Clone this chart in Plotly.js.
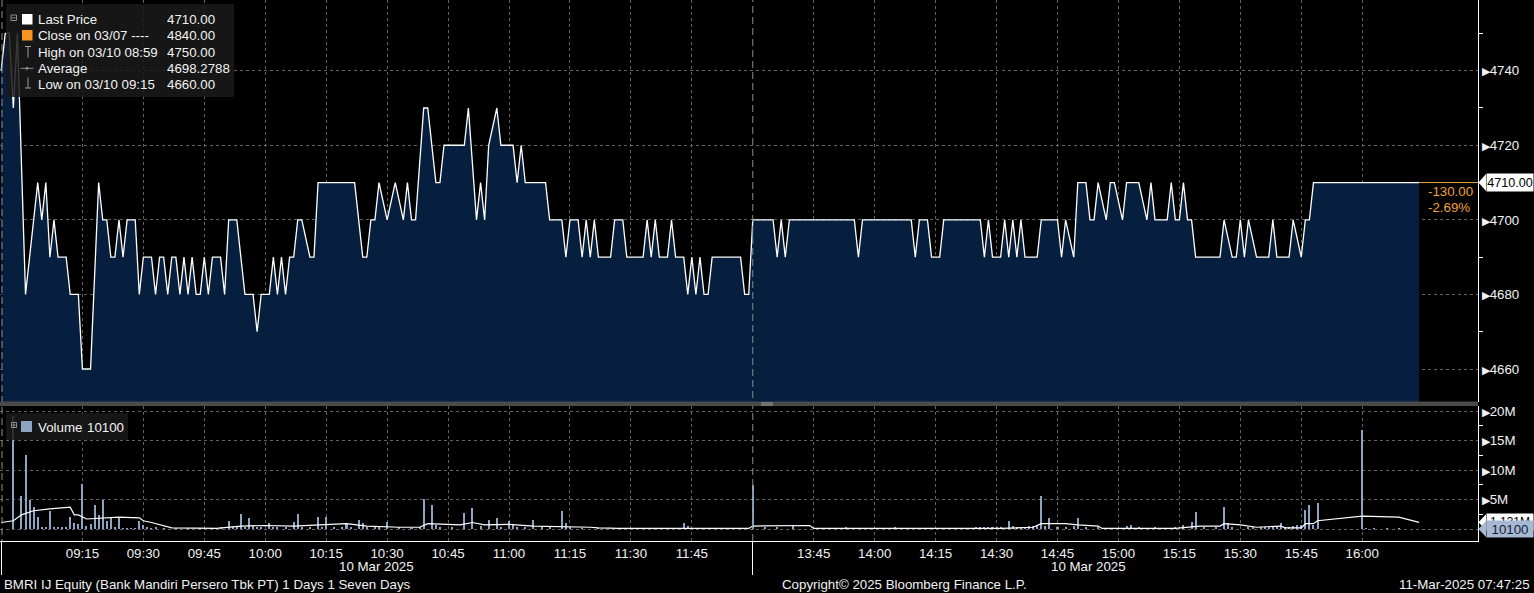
<!DOCTYPE html>
<html><head><meta charset="utf-8">
<script src="https://cdn.plot.ly/plotly-3.0.1.min.js"></script>
<style>html,body{margin:0;padding:0;background:#000;overflow:hidden}#chart{width:1534px;height:593px}</style>
</head><body><div id="chart"></div>
<script>
const DAY = '2025-03-10 ';
// ---- Price (Last Price, 1-minute, vertices) ----
const priceTimes = ['08:55','08:56','08:57','08:58','08:59','09:01','09:04','09:05','09:06','09:07','09:08','09:09','09:11','09:12','09:14','09:15','09:17','09:19','09:20','09:21','09:22','09:23','09:24','09:25','09:26','09:28','09:29','09:30','09:32','09:33','09:34','09:35','09:36','09:37','09:38','09:39','09:40','09:41','09:42','09:43','09:44','09:45','09:46','09:47','09:49','09:50','09:51','09:53','09:55','09:57','09:58','09:59','10:01','10:02','10:03','10:04','10:05','10:06','10:07','10:08','10:09','10:11','10:12','10:13','10:22','10:24','10:25','10:26','10:27','10:28','10:30','10:32','10:34','10:35','10:36','10:37','10:39','10:40','10:42','10:43','10:44','10:49','10:50','10:52','10:53','10:54','10:55','10:57','10:58','11:01','11:02','11:03','11:04','11:09','11:10','11:13','11:14','11:15','11:17','11:18','11:19','11:20','11:21','11:22','11:25','11:26','11:28','11:29','11:33','11:34','11:35','11:36','11:37','11:39','11:40','11:41','11:43','11:44','11:45','11:46','11:47','11:48','11:49','11:50','11:57','11:58','11:59',
'13:30','13:35','13:36','13:37','13:38','13:39','13:55','13:56','13:57','14:09','14:10','14:11','14:13','14:14','14:16','14:17','14:26','14:27','14:28','14:29','14:31','14:32','14:33','14:34','14:35','14:36','14:37','14:40','14:41','14:45','14:46','14:47','14:49','14:50','14:52','14:53','14:54','14:55','14:57','14:58','14:59','15:01','15:02','15:05','15:07','15:08','15:09','15:12','15:13','15:14','15:15','15:16','15:17','15:18','15:19','15:25','15:26','15:28','15:29','15:30','15:31','15:32','15:34','15:37','15:38','15:39','15:42','15:43','15:45','15:46','15:47','15:48','16:14'];
const priceValues = [4740,4750,4750,4730,4750,4680,4710,4700,4710,4690,4700,4690,4690,4680,4680,4660,4660,4710,4700,4700,4690,4690,4700,4690,4700,4700,4680,4690,4690,4680,4690,4690,4680,4690,4690,4680,4690,4680,4690,4680,4680,4690,4680,4690,4690,4680,4700,4700,4680,4680,4670,4680,4680,4690,4680,4690,4680,4690,4690,4700,4700,4690,4690,4710,4710,4690,4690,4700,4700,4710,4700,4710,4700,4710,4700,4700,4730,4730,4710,4710,4720,4720,4730,4700,4710,4700,4720,4730,4720,4720,4710,4720,4710,4710,4700,4700,4690,4700,4700,4690,4700,4690,4700,4690,4690,4700,4700,4690,4690,4700,4690,4700,4690,4690,4700,4690,4690,4680,4690,4680,4690,4680,4680,4690,4690,4680,4680,
4700,4700,4690,4700,4690,4700,4700,4690,4700,4700,4690,4700,4700,4690,4690,4700,4700,4690,4700,4690,4690,4700,4690,4700,4690,4700,4690,4690,4700,4700,4690,4700,4690,4710,4710,4700,4700,4710,4700,4710,4710,4700,4710,4710,4700,4710,4700,4700,4710,4700,4700,4710,4700,4700,4690,4690,4700,4690,4690,4700,4690,4700,4690,4690,4700,4690,4690,4700,4690,4700,4700,4710,4710];
// ---- Volume (millions of shares) ----
const volTimes = ['08:58','09:00','09:01','09:02','09:03','09:04','09:05','09:06','09:07','09:08','09:09','09:10','09:11','09:12','09:13','09:14','09:15','09:16','09:17','09:18','09:19','09:20','09:21','09:22','09:23','09:24','09:25','09:26','09:27','09:28','09:29','09:30','09:31','09:32','09:33','09:35','09:38','09:41','09:44','09:47','09:49','09:51','09:52','09:53','09:54','09:55','09:56','09:57','09:58','09:59','10:01','10:02','10:03','10:05','10:07','10:08','10:09','10:11','10:13','10:14','10:15','10:17','10:19','10:20','10:21','10:23','10:24','10:25','10:27','10:28','10:30','10:33','10:36','10:38','10:39','10:41','10:42','10:43','10:46','10:49','10:51','10:53','10:55','10:57','10:58','11:00','11:01','11:02','11:04','11:06','11:08','11:10','11:13','11:14','11:15','11:18','11:22','11:27','11:33','11:38','11:43','11:44','11:51','11:56',
'13:30','13:33','13:36','13:40','13:53','14:05','14:12','14:19','14:22','14:25','14:26','14:27','14:28','14:29','14:30','14:31','14:33','14:34','14:35','14:36','14:37','14:38','14:39','14:40','14:41','14:42','14:43','14:45','14:47','14:49','14:50','14:52','14:55','15:02','15:03','15:05','15:09','15:14','15:16','15:18','15:19','15:21','15:24','15:26','15:27','15:28','15:32','15:33','15:35','15:36','15:37','15:38','15:39','15:40','15:41','15:42','15:43','15:44','15:45','15:46','15:47','15:48','15:49','16:00','16:01','16:03','16:06','16:09'];
const volValues = [19.1,5.6,12.6,4.9,3.8,2.1,0.4,0.3,3.0,0.3,0.3,0.3,0.4,2.1,1.0,0.9,7.6,0.5,0.9,4.0,2.4,4.9,1.4,2.0,0.3,1.9,0.2,0.2,0.2,0.2,1.4,0.7,0.3,0.2,0.3,0.2,0.2,0.2,0.2,0.2,0.3,1.3,0.3,0.4,2.6,0.4,1.8,0.5,0.4,0.4,1.0,0.3,0.4,0.3,1.2,2.6,0.4,0.3,2.0,0.4,2.1,0.3,0.3,0.9,0.4,1.5,1.0,0.4,0.3,0.3,1.2,0.3,0.2,0.4,5.1,4.0,0.6,0.3,0.4,2.7,3.6,0.5,1.5,1.8,0.4,1.4,0.8,0.4,0.4,1.6,0.3,0.3,3.1,1.1,0.3,0.2,0.2,0.2,0.2,0.2,1.1,0.5,0.2,0.2,
7.4,0.3,0.3,0.5,0.3,0.3,0.2,0.2,0.2,0.3,0.3,0.4,0.3,0.4,0.4,0.3,1.4,0.5,0.4,0.3,0.4,0.5,0.5,0.6,5.6,0.5,1.9,0.4,0.4,0.5,1.8,0.4,0.3,0.5,0.7,0.3,0.3,0.4,0.6,1.2,2.9,0.3,0.3,3.8,1.1,0.4,0.4,0.4,0.4,0.4,0.4,0.5,0.5,1.0,0.4,0.4,0.5,0.7,0.7,3.3,4.0,0.6,4.4,16.7,0.2,0.2,0.2,0.2];
// ---- Volume moving-average line (millions) ----
const volAvgTimes = ['08:55','08:58','09:00','09:03','09:07','09:12','09:13','09:14','09:16','09:19','09:24','09:29','09:30','09:32','09:35','09:37','09:48','09:52','09:54','10:00','10:07','10:20','10:25','10:33','10:38','10:40','10:48','10:51','10:54','11:00','11:06','11:20','11:22','11:27','11:59','13:30','13:42','13:44','13:45','14:31','14:39','14:41','14:47','14:50','14:55','14:56','15:14','15:20','15:25','15:26','15:30','15:34','15:40','15:41','15:45','15:46','15:48','15:49','16:00','16:04','16:09','16:14'];
const volAvgValues = [1.1,1.4,2.4,3.1,3.4,3.7,2.4,2.4,1.7,1.8,2.0,1.9,1.4,1.1,0.5,0.2,0.1,0.3,0.5,0.6,0.5,0.9,0.5,0.3,0.3,0.9,0.7,1.1,0.7,0.8,0.5,0.3,0.2,0.1,0.1,0.5,0.6,0.6,0.1,0.1,0.3,0.9,0.9,0.7,0.5,0.1,0.1,0.5,0.5,0.9,0.7,0.3,0.5,0.2,0.2,0.9,0.9,1.4,2.2,2.1,2.0,1.131];
// ---- Axes / labels ----
const xTickTimes = ['09:15','09:30','09:45','10:00','10:15','10:30','10:45','11:00','11:15','11:30','11:45','13:45','14:00','14:15','14:30','14:45','15:00','15:15','15:30','15:45','16:00'];
const priceTicks = [4660,4680,4700,4720,4740];
const priceMinorTicks = [4670,4690,4710,4730,4750];
const volTicks = [0,5,10,15,20];
const volTickLabels = ['','5M','10M','15M','20M'];
const volMinorTicks = [2.5,7.5,12.5,17.5];
const legendLabels = ['Last Price','Close on 03/07 ----','High on 03/10 08:59','Average','Low on 03/10 09:15'];
const legendValues = ['4710.00','4840.00','4750.00','4698.2788','4660.00'];
const prevClose = 4840;
const lastVolume = 10100;
const dateLabel = '10 Mar 2025';
const footerLeft = 'BMRI IJ Equity (Bank Mandiri Persero Tbk PT) 1 Days 1 Seven Days';
const footerMid = 'Copyright\u00A9 2025 Bloomberg Finance L.P.';
const footerRight = '11-Mar-2025 07:47:25';

// ---- helpers ----
const T = t => DAY + t;
const PW = 1478, PH = 541;
const px = x => x / PW;
const py = y => 1 - y / PH;
const FONT = 'Liberation Sans, Arial, sans-serif';
const FS = 13.3;
const WHITE = '#f2f2f2';
const ORANGE = '#f0a23a';
const VOLC = '#8ea4c3';
const TAGC = '#a7b8d2';
const GRID = '#626262';
const tri = '<span style="font-size:11px">\u25B6</span>';

const lastPrice = priceValues[priceValues.length - 1];
const lastTime = priceTimes[priceTimes.length - 1];
const chg = lastPrice - prevClose;
const chgPct = chg / prevClose * 100;
const lastAvg = volAvgValues[volAvgValues.length - 1];
const xStart = T('08:54:43'), xEnd = T('16:28:30');
const pRange = [4651.15, 4758.96];
const vRange = [-2.03, 20.85];
const pUnitPerPx = (pRange[1] - pRange[0]) / 402;
const vUnitPerPx = (vRange[1] - vRange[0]) / 135;

const traces = [
  {x: priceTimes.map(T), y: priceValues, type: 'scatter', mode: 'lines', fill: 'tozeroy',
   fillcolor: '#061f3f', line: {color: '#ffffff', width: 1.3}, xaxis: 'x', yaxis: 'y', hoverinfo: 'skip'},
  {x: [T(lastTime), xEnd], y: [lastPrice, lastPrice], type: 'scatter', mode: 'lines',
   line: {color: ORANGE, width: 1}, xaxis: 'x', yaxis: 'y', hoverinfo: 'skip'},
  {x: volTimes.map(T), y: volValues, type: 'bar', marker: {color: VOLC, line: {width: 0}}, width: 30000,
   xaxis: 'x', yaxis: 'y2', hoverinfo: 'skip'},
  {x: volAvgTimes.map(T), y: volAvgValues, type: 'scatter', mode: 'lines',
   line: {color: '#ffffff', width: 1.2}, xaxis: 'x', yaxis: 'y2', hoverinfo: 'skip'}
];

const shapes = [];
const annotations = [];
function ann(o) { annotations.push(Object.assign({showarrow: false, xref: 'paper', yref: 'paper', borderpad: 0,
  font: {family: FONT, size: FS, color: WHITE}}, o)); }
function rect(x0, y0, x1, y1, fill, line) {
  shapes.push({type: 'rect', xref: 'paper', yref: 'paper', x0: px(x0), x1: px(x1), y0: py(y0), y1: py(y1),
    fillcolor: fill, line: line || {width: 0}, layer: 'above'});
}
function seg(x0, y0, x1, y1, color, w, dash) {
  shapes.push({type: 'line', xref: 'paper', yref: 'paper', x0: px(x0), x1: px(x1), y0: py(y0), y1: py(y1),
    line: {color: color, width: w || 1, dash: dash || 'solid'}, layer: 'above'});
}
function notch(yref, yv, half, color) {
  shapes.push({type: 'path', xref: 'paper', yref: yref, layer: 'above', fillcolor: color, line: {width: 0},
    path: `M ${px(1478.5)} ${yv} L ${px(1486)} ${yv + half} L ${px(1486)} ${yv - half} Z`});
}

// session / day separators
shapes.push({type: 'line', xref: 'x', yref: 'paper', x0: T('13:30'), x1: T('13:30'), y0: 0, y1: 1,
  line: {color: '#8c8c8c', width: 1, dash: '7px,4px'}, layer: 'above'});
seg(2, 0, 2, 541, '#8c8c8c', 1, '7px,4px');
seg(752.5, 541, 752.5, 575, '#ffffff', 1);
seg(1.5, 541, 1.5, 575, '#ffffff', 1);
// panel separator
rect(0, 401.5, 1478, 406, '#4a4a4a');
seg(761, 403, 773, 403, '#9a9a9a', 1);
seg(761, 405, 773, 405, '#9a9a9a', 1);

// price legend box
rect(6, 4, 234, 97, 'rgba(26,26,26,0.86)');
rect(11, 15, 16.5, 20.5, 'rgba(0,0,0,0)', {color: '#8c8c8c', width: 1});
seg(12, 17.8, 15.5, 17.8, '#8c8c8c', 1);
rect(22, 14, 32.5, 24.5, '#ffffff');
rect(22, 30, 32.5, 40.5, '#f7941d');
seg(25, 46.5, 31, 46.5, '#9a9a9a', 1); seg(28, 46.5, 28, 57.5, '#9a9a9a', 1);
seg(20.5, 68.3, 33.5, 68.3, '#8a8a8a', 1);
shapes.push({type: 'circle', xref: 'paper', yref: 'paper', x0: px(25.5), x1: px(28.5), y0: py(69.8), y1: py(66.8), fillcolor: '#8a8a8a', line: {width: 0}, layer: 'above'});
seg(28, 77.5, 28, 88, '#9a9a9a', 1); seg(25, 88, 31, 88, '#9a9a9a', 1);
const rowY = [19.5, 35.5, 52, 68, 84.5];
legendLabels.forEach((l, i) => {
  ann({x: px(37), y: py(rowY[i]), xanchor: 'left', yanchor: 'middle', text: l});
  ann({x: px(166), y: py(rowY[i]), xanchor: 'left', yanchor: 'middle', text: legendValues[i]});
});

// volume legend box
rect(6, 413, 128, 440, 'rgba(26,26,26,0.86)');
rect(11.5, 422.5, 16.5, 427.5, 'rgba(0,0,0,0)', {color: '#8c8c8c', width: 1});
seg(12.5, 425, 15.5, 425, '#8c8c8c', 1); seg(14, 423.5, 14, 426.5, '#8c8c8c', 1);
rect(21, 421, 32, 432, VOLC);
ann({x: px(37), y: py(427), xanchor: 'left', yanchor: 'middle', text: 'Volume'});
ann({x: px(86), y: py(427), xanchor: 'left', yanchor: 'middle', text: String(lastVolume)});

// last price tag on the axis
notch('y', lastPrice, 8.5 * pUnitPerPx, '#ffffff');
ann({x: px(1486), y: lastPrice, yref: 'y', xanchor: 'left', yanchor: 'middle', text: lastPrice.toFixed(2),
  width: 46, height: 17, align: 'center', valign: 'middle', bgcolor: '#ffffff', font: {family: FONT, size: 12.6, color: '#000'}});
ann({x: px(1427), y: lastPrice, yref: 'y', yshift: -9, xanchor: 'left', yanchor: 'middle', text: chg.toFixed(2), font: {family: FONT, size: FS, color: ORANGE}});
ann({x: px(1427), y: lastPrice, yref: 'y', yshift: -25, xanchor: 'left', yanchor: 'middle', text: chgPct.toFixed(2) + '%', font: {family: FONT, size: FS, color: ORANGE}});

// volume tags on the axis (the moving-average tag sits partly behind the volume tag, as in the source)
notch('y2', lastAvg, 8 * vUnitPerPx, '#ffffff');
ann({x: px(1486), y: lastAvg, yref: 'y2', xanchor: 'left', yanchor: 'middle', text: lastAvg.toFixed(3) + 'M',
  width: 46, height: 16, align: 'center', valign: 'middle', bgcolor: '#ffffff', font: {family: FONT, size: 12, color: '#000'}});
notch('y2', lastVolume / 1e6, 8 * vUnitPerPx, TAGC);
ann({x: px(1486), y: lastVolume / 1e6, yref: 'y2', xanchor: 'left', yanchor: 'middle', text: String(lastVolume),
  width: 46, height: 16, align: 'center', valign: 'middle', bgcolor: TAGC, font: {family: FONT, size: FS, color: '#13223a'}});

// date labels and footer
ann({x: px(376), y: py(566), xanchor: 'center', yanchor: 'middle', text: dateLabel});
ann({x: px(1088), y: py(566), xanchor: 'center', yanchor: 'middle', text: dateLabel});
ann({x: px(3), y: py(584), xanchor: 'left', yanchor: 'middle', text: footerLeft});
ann({x: px(904), y: py(584), xanchor: 'center', yanchor: 'middle', text: footerMid});
ann({x: px(1531), y: py(584), xanchor: 'right', yanchor: 'middle', text: footerRight});

const axCommon = {showgrid: true, gridcolor: GRID, griddash: 'dot', gridwidth: 1, zeroline: false,
  showline: true, linecolor: '#ffffff', linewidth: 1, ticks: '', tickfont: {family: FONT, size: FS, color: WHITE}};

const layout = {
  width: 1534, height: 593, paper_bgcolor: '#000000', plot_bgcolor: '#000000',
  margin: {l: 0, r: 56, t: 0, b: 52}, showlegend: false, hovermode: false, bargap: 0,
  font: {family: FONT, size: FS, color: WHITE},
  xaxis: Object.assign({}, axCommon, {type: 'date', range: [xStart, xEnd], anchor: 'y2',
    rangebreaks: [{values: [T('12:00')], dvalue: 90 * 60 * 1000}],
    tickmode: 'array', tickvals: xTickTimes.map(T), ticktext: xTickTimes}),
  yaxis: Object.assign({}, axCommon, {domain: [py(402), 1], range: pRange, side: 'right', anchor: 'x',
    tickmode: 'array', tickvals: priceTicks, ticktext: priceTicks.map(v => tri + v), ticklabelstandoff: 0,
    minor: {tickmode: 'array', tickvals: priceMinorTicks, ticks: 'outside', ticklen: 4, tickcolor: '#ffffff', showgrid: false}}),
  yaxis2: Object.assign({}, axCommon, {domain: [0, py(406)], range: vRange, side: 'right', anchor: 'x',
    tickmode: 'array', tickvals: volTicks, ticktext: volTickLabels.map(v => v ? tri + v : ''), ticklabelstandoff: 0,
    minor: {tickmode: 'array', tickvals: volMinorTicks, ticks: 'outside', ticklen: 4, tickcolor: '#ffffff', showgrid: false}}),
  shapes: shapes,
  annotations: annotations
};

Plotly.newPlot('chart', traces, layout, {staticPlot: true, displayModeBar: false});
</script>
</body></html>
